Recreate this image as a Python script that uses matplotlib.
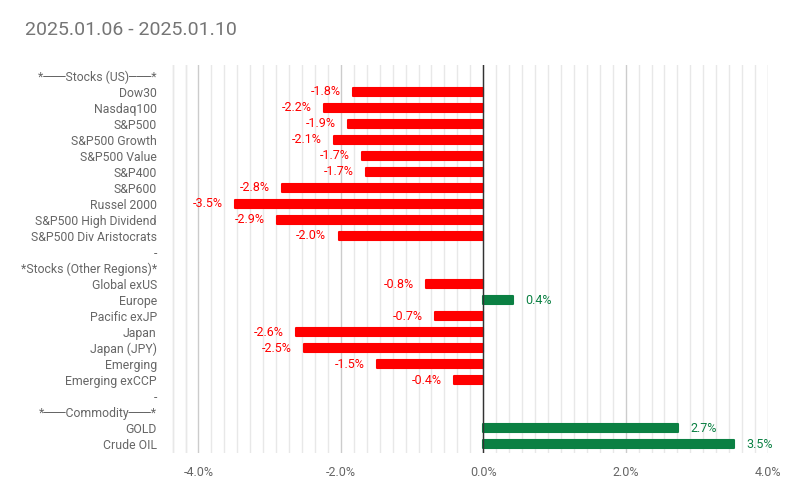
import matplotlib
matplotlib.use("Agg")
import matplotlib.pyplot as plt
import numpy as np
from matplotlib.ticker import FixedLocator, FuncFormatter

plt.rcParams['font.family'] = ['Roboto', 'DejaVu Sans']

title = "2025.01.06 - 2025.01.10"
categories = [
    "*───Stocks (US)───*", "Dow30", "Nasdaq100", "S&P500", "S&P500 Growth",
    "S&P500 Value", "S&P400", "S&P600", "Russel 2000", "S&P500 High Dividend",
    "S&P500 Div Aristocrats", "-", "*Stocks (Other Regions)*", "Global exUS",
    "Europe", "Pacific exJP", "Japan", "Japan (JPY)", "Emerging", "Emerging exCCP",
    "-", "*───Commodity───*", "GOLD", "Crude OIL",
]
values = [
    None, -1.83, -2.23, -1.90, -2.10,
    -1.70, -1.65, -2.82, -3.49, -2.89,
    -2.03, None, None, -0.80,
    0.42, -0.68, -2.63, -2.52, -1.49, -0.41,
    None, None, 2.73, 3.52,
]
value_labels = [
    None, "-1.8%", "-2.2%", "-1.9%", "-2.1%",
    "-1.7%", "-1.7%", "-2.8%", "-3.5%", "-2.9%",
    "-2.0%", None, None, "-0.8%",
    "0.4%", "-0.7%", "-2.6%", "-2.5%", "-1.5%", "-0.4%",
    None, None, "2.7%", "3.5%",
]

RED = "#ff0000"
GREEN = "#0b8043"

fig = plt.figure(figsize=(7.94, 5.01), dpi=100)
ax = fig.add_axes([170/794, 1-453/501, (768-170)/794, (453-65)/501])

n = len(categories)
y = np.arange(n)
for i, (v, lab) in enumerate(zip(values, value_labels)):
    if v is None:
        continue
    c = RED if v < 0 else GREEN
    ax.barh(i, v, height=0.5, color=c, edgecolor=c, linewidth=1.5,
            joinstyle='round', zorder=3)
    if v < 0:
        ax.annotate(lab, (v, i), xytext=(-9, 0), textcoords='offset points',
                    ha='right', va='center', color=c, fontsize=9)
    else:
        ax.annotate(lab, (v, i), xytext=(9, 0), textcoords='offset points',
                    ha='left', va='center', color=c, fontsize=9)

ax.set_xlim(-4.4, 4.0)
ax.set_ylim(n - 1 + 0.54, -0.66)
ax.set_yticks(y)
ax.set_yticklabels(categories, fontsize=8.8, color="#666666")

ax.xaxis.set_major_locator(FixedLocator([-4, -2, 0, 2, 4]))
minor = []
for k in range(-3, 2):
    base = 2 * k
    for j in range(1, 11):
        minor.append(base + j * 2 / 11)
minor.append(-4 - 2/11)
minor.append(-4 - 4/11)
ax.xaxis.set_minor_locator(FixedLocator(minor))
ax.xaxis.set_major_formatter(FuncFormatter(lambda x, p: f"{x:.1f}%"))
ax.tick_params(axis='x', which='major', length=0, labelsize=9, labelcolor="#666666", pad=9)
ax.tick_params(axis='x', which='minor', length=0)
ax.tick_params(axis='y', length=0, pad=9.5)
ax.grid(axis='x', which='major', color="#cccccc", linewidth=1, zorder=0)
ax.grid(axis='x', which='minor', color="#e8e8e8", linewidth=1, zorder=0)
ax.axvline(0, color="#333333", linewidth=1, zorder=4)
for s in ax.spines.values():
    s.set_visible(False)

fig.text(25/794, 1-30/501, title, fontsize=14, color="#757575", ha='left', va='center')

fig.savefig("out.png", dpi=100)
